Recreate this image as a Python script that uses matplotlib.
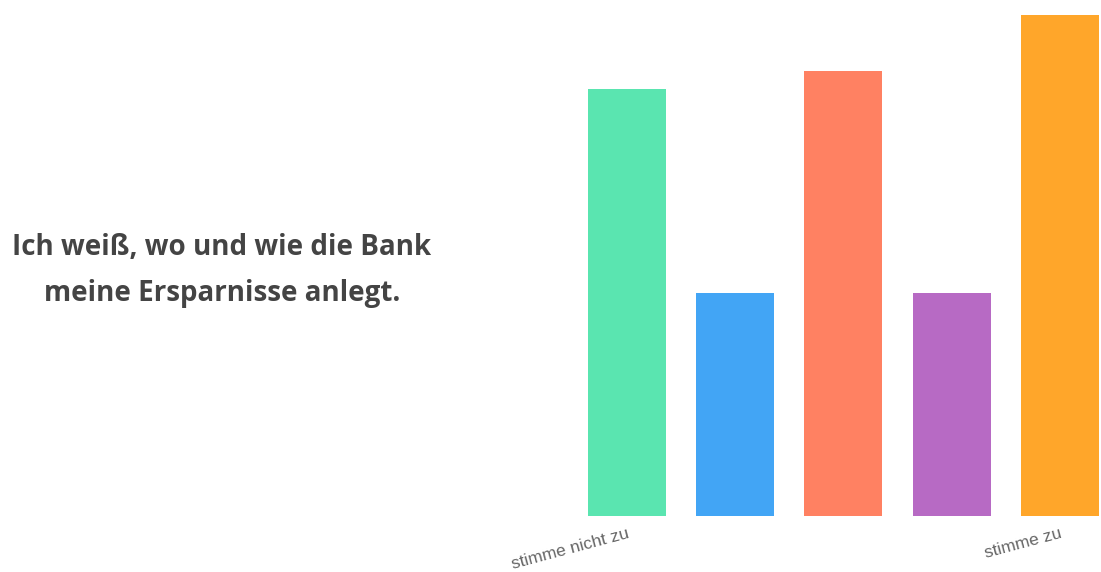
import matplotlib
matplotlib.use('Agg')
import matplotlib.pyplot as plt

# Daten
kategorien = ['stimme nicht zu', '', '', '', 'stimme zu']
werte = [23, 12, 24, 12, 27]
farben = ['#5ae5b0', '#42a5f5', '#ff8162', '#b76ac4', '#ffa62a']
frage = 'Ich weiß, wo und wie die Bank\nmeine Ersparnisse anlegt.'

fig = plt.figure(figsize=(11.01, 5.72), dpi=100)
ax = fig.add_axes([0.534, 0.098, 0.464, 0.876])

positionen = list(range(len(werte)))
ax.bar(positionen, werte, width=0.72, color=farben)
ax.set_xlim(-0.36, len(werte) - 1 + 0.36)
ax.set_ylim(0, max(werte))

ax.set_xticks(positionen)
ax.set_xticklabels(kategorien, rotation=15, ha='right', rotation_mode='anchor',
                   color='#666666', fontsize=12.5, family='Liberation Sans')
ax.tick_params(axis='x', length=0, pad=7)
ax.set_yticks([])
for s in ax.spines.values():
    s.set_visible(False)

fig.text(0.2016, 0.527, frage, ha='center', va='center', fontsize=20,
         fontweight='bold', color='#444444', family='Open Sans', linespacing=1.8)

fig.savefig('out.png', dpi=100)
